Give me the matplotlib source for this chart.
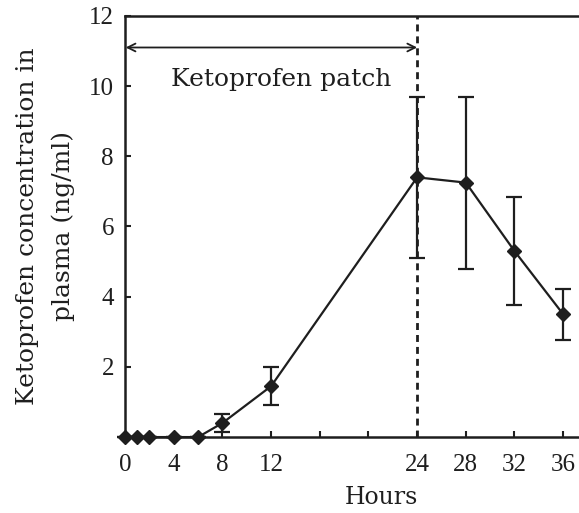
import numpy as np
import matplotlib
matplotlib.use('Agg')
import matplotlib.pyplot as plt

# DATA
hours = [0, 1, 2, 4, 6, 8, 12, 24, 28, 32, 36]
conc = [0, 0, 0, 0, 0, 0.4, 1.45, 7.4, 7.25, 5.3, 3.5]
sd = [0, 0, 0, 0, 0, 0.25, 0.55, 2.3, 2.45, 1.55, 0.72]

x_ticks = [0, 4, 8, 12, 16, 20, 24, 28, 32, 36]
x_labels = ['0', '4', '8', '12', '', '', '24', '28', '32', '36']
y_ticks = [2, 4, 6, 8, 10, 12]

patch_end = 24
patch_label = 'Ketoprofen patch'

INK = '#1e1e1e'
plt.rcParams['font.family'] = ['DejaVu Serif']

fig = plt.figure(figsize=(5.79, 5.13), dpi=100)
ax = fig.add_axes([0.216, 0.148, 0.784, 0.821])

ax.errorbar(hours, conc, yerr=sd, color=INK, lw=1.6, marker='D', ms=7,
            capsize=6, elinewidth=1.6, capthick=1.6, zorder=3, clip_on=False)

# end of patch
ax.axvline(patch_end, color=INK, lw=2, ls=(0, (2.5, 1.8)), zorder=2)

# patch duration arrow
ax.annotate('', xy=(0.05, 11.1), xytext=(patch_end, 11.1),
            arrowprops=dict(arrowstyle='<->', color=INK, lw=1.3,
                            shrinkA=0, shrinkB=0, mutation_scale=14))
ax.text(12.85, 10.2, patch_label, ha='center', va='center', fontsize=18, color=INK)

ax.set_xlim(0, 37.3)
ax.set_ylim(0, 12)
ax.set_xticks(x_ticks)
ax.set_xticklabels(x_labels)
ax.set_yticks(y_ticks)
ax.tick_params(direction='in', length=4, width=1.5, labelsize=18,
               colors=INK, pad=8)
ax.tick_params(axis='x', pad=12)
for lab in ax.get_xticklabels() + ax.get_yticklabels():
    lab.set_family('Liberation Serif')
for side in ['left', 'bottom', 'top']:
    ax.spines[side].set_linewidth(1.8)
    ax.spines[side].set_color(INK)
ax.spines['right'].set_visible(False)

ax.set_xlabel('Hours', fontsize=17, color=INK)
ax.xaxis.set_label_coords(0.564, -0.115)
ax.set_ylabel('Ketoprofen concentration in\nplasma (ng/ml)', fontsize=18,
              color=INK, labelpad=10, linespacing=1.7)

fig.savefig('out.png', dpi=100)
